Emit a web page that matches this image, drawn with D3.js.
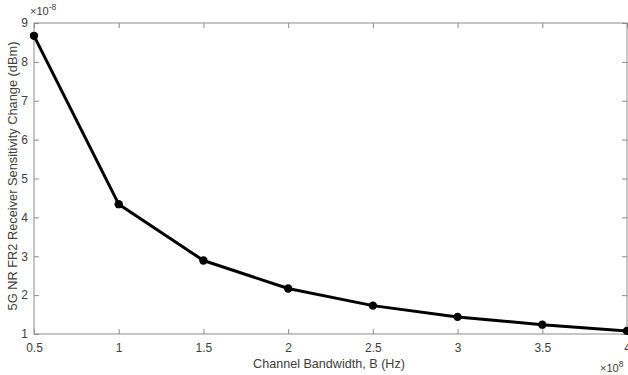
<!DOCTYPE html>
<html>
<head>
<meta charset="utf-8">
<script src="https://cdn.jsdelivr.net/npm/d3@7"></script>
<style>
  body { margin: 0; background: #fff; }
  svg { display: block; font-family: "Liberation Sans", Arial, sans-serif; }
</style>
</head>
<body>
<svg id="chart" width="628" height="375"></svg>
<script>
// bandwidth in units of 1e8 Hz, sensitivity change in units of 1e-8 dBm
const bandwidth = [0.5, 1, 1.5, 2, 2.5, 3, 3.5, 4];
const sensChange = [8.67, 4.34, 2.89, 2.17, 1.73, 1.44, 1.24, 1.08];
const xTicks = [0.5, 1, 1.5, 2, 2.5, 3, 3.5, 4];
const yTicks = [1, 2, 3, 4, 5, 6, 7, 8, 9];

const margin = { top: 23, right: 1, bottom: 41, left: 34 },
  width = 628 - margin.left - margin.right,
  height = 375 - margin.top - margin.bottom;

const svg = d3.select("#chart");
const g = svg.append("g")
  .attr("transform", `translate(${margin.left},${margin.top})`);

const x = d3.scaleLinear().domain([0.5, 4]).range([0, width]);
const y = d3.scaleLinear().domain([1, 9]).range([height, 0]);

const axisCol = "#8c8c8c", textCol = "#404040";
const tl = 5;

// box
g.append("rect")
  .attr("width", width).attr("height", height)
  .attr("fill", "none").attr("stroke", axisCol).attr("stroke-width", 1);

// bottom axis
g.append("g").attr("transform", `translate(0,${height})`)
  .call(d3.axisBottom(x).tickValues(xTicks).tickSize(-tl).tickPadding(9)
    .tickFormat(d3.format("~g")));
// left axis
g.append("g")
  .call(d3.axisLeft(y).tickValues(yTicks).tickSize(-tl).tickPadding(6)
    .tickFormat(d3.format("d")));
// top and right ticks
g.append("g").call(d3.axisTop(x).tickValues(xTicks).tickSize(-tl).tickFormat(""));
g.append("g").attr("transform", `translate(${width},0)`)
  .call(d3.axisRight(y).tickValues(yTicks).tickSize(-tl).tickFormat(""));

g.selectAll(".domain").remove();
g.selectAll(".tick line").attr("stroke", axisCol);
g.selectAll(".tick text").attr("fill", textCol).attr("font-size", 12)
  .attr("font-family", "Liberation Sans, Arial, sans-serif");

// exponent labels
const yExp = svg.append("text").attr("x", margin.left - 4).attr("y", 15)
  .attr("fill", textCol).attr("font-size", 11);
yExp.append("tspan").text("\u00d710");
yExp.append("tspan").attr("dy", -5).attr("font-size", 8.5).text("-8");

const xExp = svg.append("text").attr("x", 600).attr("y", 372)
  .attr("fill", textCol).attr("font-size", 11);
xExp.append("tspan").text("\u00d710");
xExp.append("tspan").attr("dy", -5).attr("font-size", 8.5).text("8");

// axis titles
svg.append("text")
  .attr("x", 329).attr("y", 368)
  .attr("text-anchor", "middle").attr("fill", textCol).attr("font-size", 12.6)
  .text("Channel Bandwidth, B (Hz)");

svg.append("text")
  .attr("transform", `translate(17,176) rotate(-90)`)
  .attr("text-anchor", "middle").attr("fill", textCol).attr("font-size", 12.8)
  .text("5G NR FR2 Receiver Sensitivity Change (dBm)");

// data
const pts = bandwidth.map((b, i) => [b, sensChange[i]]);
g.append("path").datum(pts)
  .attr("fill", "none").attr("stroke", "#000").attr("stroke-width", 3)
  .attr("stroke-linejoin", "round")
  .attr("d", d3.line().x(d => x(d[0])).y(d => y(d[1])));

g.selectAll("circle.pt").data(pts).join("circle")
  .attr("class", "pt")
  .attr("cx", d => x(d[0])).attr("cy", d => y(d[1]))
  .attr("r", 4.2).attr("fill", "#000");
</script>
</body>
</html>
